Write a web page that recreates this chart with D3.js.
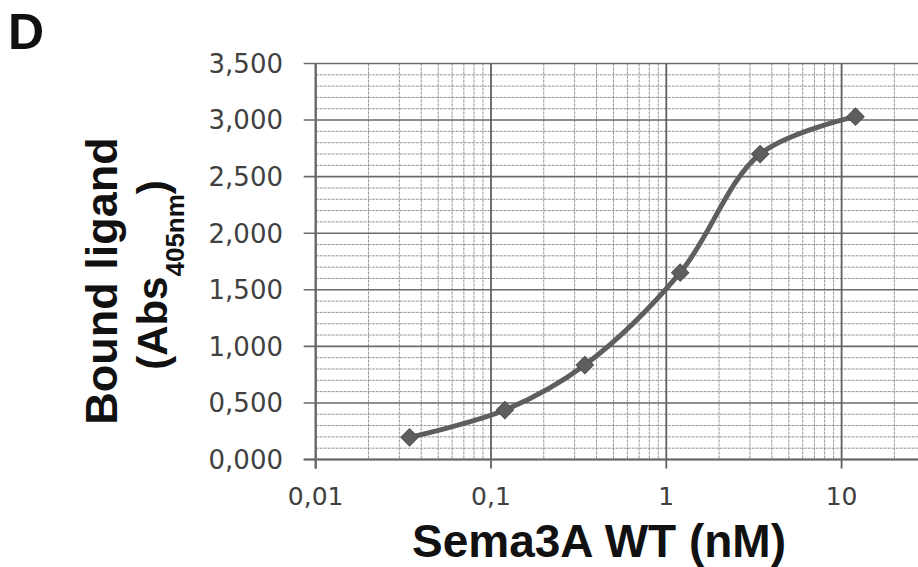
<!DOCTYPE html>
<html>
<head>
<meta charset="utf-8">
<script src="https://cdn.jsdelivr.net/npm/d3@7"></script>
<style>
  html, body { margin: 0; padding: 0; background: #fff; }
  svg { display: block; }
</style>
</head>
<body>
<svg id="chart" width="918" height="567"></svg>
<script>
// Binding curve: Sema3A WT concentration (nM) vs bound ligand (Abs 405 nm)
const concentration = [0.0343, 0.12, 0.343, 1.2, 3.43, 12];
const absorbance = [0.196, 0.437, 0.835, 1.651, 2.70, 3.03];

const xTicks = [0.01, 0.1, 1, 10];
const xTickLabels = ["0,01", "0,1", "1", "10"];
const yTicks = [0, 0.5, 1, 1.5, 2, 2.5, 3, 3.5];
const yTickLabels = ["0,000", "0,500", "1,000", "1,500", "2,000", "2,500", "3,000", "3,500"];

const svg = d3.select("#chart");

const x = d3.scaleLog().domain([0.01, 100]).range([315.7, 1016.9]);
const y = d3.scaleLinear().domain([0, 3.5]).range([459.5, 63.5]);

const [x0, x1] = x.range();
const [y0, y1] = y.range();

// minor grid values
const xMinor = [];
[0.01, 0.1, 1, 10].forEach(d => { for (let k = 2; k <= 9; k++) xMinor.push(d * k); });
const yMinor = d3.range(0, 35).map(i => i / 10).filter(v => Math.round(v * 10) % 5 !== 0);

const grid = svg.append("g");

grid.selectAll(".hminor").data(yMinor).join("line")
  .attr("x1", x0).attr("x2", x1)
  .attr("y1", d => y(d)).attr("y2", d => y(d))
  .attr("stroke", "#959595").attr("stroke-width", 1)
  .attr("stroke-dasharray", "3,1");

grid.selectAll(".vminor").data(xMinor).join("line")
  .attr("x1", d => x(d)).attr("x2", d => x(d))
  .attr("y1", y1).attr("y2", y0)
  .attr("stroke", "#959595").attr("stroke-width", 1)
  .attr("stroke-dasharray", "3,1");

// major horizontal lines with outward tick marks
grid.selectAll(".hmajor").data(yTicks).join("line")
  .attr("x1", x0 - 12).attr("x2", x1)
  .attr("y1", d => y(d)).attr("y2", d => y(d))
  .attr("stroke", "#6a6a6a").attr("stroke-width", 1.6);

// major vertical lines with outward tick marks
grid.selectAll(".vmajor").data(xTicks).join("line")
  .attr("x1", d => x(d)).attr("x2", d => x(d))
  .attr("y1", y1).attr("y2", y0 + 9)
  .attr("stroke", "#606060").attr("stroke-width", 1.8);

// axis lines
svg.append("line").attr("x1", x0).attr("x2", x0).attr("y1", y1).attr("y2", y0 + 9)
  .attr("stroke", "#6a6a6a").attr("stroke-width", 2.2);
svg.append("line").attr("x1", x0 - 12).attr("x2", x1).attr("y1", y0).attr("y2", y0)
  .attr("stroke", "#6a6a6a").attr("stroke-width", 2);

// tick labels
svg.append("g").selectAll("text").data(yTicks).join("text")
  .attr("x", 283).attr("y", d => y(d) + 9.3)
  .attr("text-anchor", "end")
  .attr("font-family", "DejaVu Sans, Verdana, sans-serif")
  .attr("font-size", 26).attr("fill", "#404040")
  .text((d, i) => yTickLabels[i]);

svg.append("g").selectAll("text").data(xTicks).join("text")
  .attr("x", d => x(d)).attr("y", 505)
  .attr("text-anchor", "middle")
  .attr("font-family", "DejaVu Sans, Verdana, sans-serif")
  .attr("font-size", 25).attr("fill", "#404040")
  .text((d, i) => xTickLabels[i]);

// data curve
const pts = concentration.map((c, i) => [x(c), y(absorbance[i])]);
svg.append("path")
  .attr("d", d3.line().curve(d3.curveCatmullRom.alpha(0.5))(pts))
  .attr("fill", "none").attr("stroke", "#5e5e5e").attr("stroke-width", 5);

svg.append("g").selectAll("path").data(pts).join("path")
  .attr("transform", d => `translate(${d[0]},${d[1]}) rotate(45)`)
  .attr("d", d3.symbol(d3.symbolSquare, 150))
  .attr("fill", "#5e5e5e").attr("stroke", "#505050").attr("stroke-width", 1);

// titles
svg.append("text").attr("x", 8).attr("y", 49)
  .attr("font-family", "Liberation Sans, Arial, sans-serif").attr("font-weight", "bold")
  .attr("font-size", 50).attr("fill", "#111").text("D");

svg.append("text").attr("x", 599).attr("y", 557)
  .attr("text-anchor", "middle")
  .attr("font-family", "Liberation Sans, Arial, sans-serif").attr("font-weight", "bold")
  .attr("font-size", 46).attr("fill", "#111").text("Sema3A WT (nM)");

const yTitle = svg.append("g").attr("transform", "rotate(-90)");
yTitle.append("text").attr("x", -281).attr("y", 117)
  .attr("text-anchor", "middle")
  .attr("font-family", "Liberation Sans, Arial, sans-serif").attr("font-weight", "bold")
  .attr("font-size", 45).attr("fill", "#111").text("Bound ligand");

const t2 = yTitle.append("text").attr("x", -275).attr("y", 167)
  .attr("text-anchor", "middle")
  .attr("font-family", "Liberation Sans, Arial, sans-serif").attr("font-weight", "bold")
  .attr("font-size", 42).attr("fill", "#111");
t2.append("tspan").text("(Abs");
t2.append("tspan").attr("font-size", 26).attr("dy", 17).text("405nm");
t2.append("tspan").attr("dy", -17).text(")");
</script>
</body>
</html>
